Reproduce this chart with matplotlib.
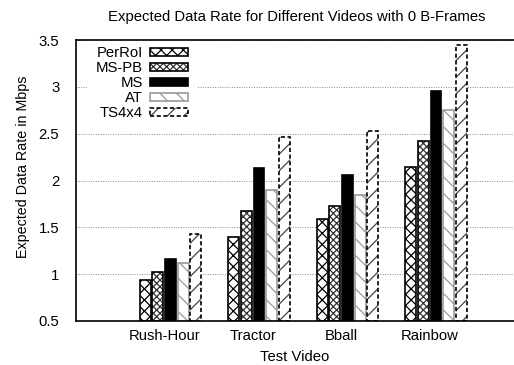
import numpy as np
import matplotlib
matplotlib.use("Agg")
import matplotlib.pyplot as plt
from matplotlib.legend_handler import HandlerTuple

videos = ["Rush-Hour", "Tractor", "Bball", "Rainbow"]
methods = ["PerRoI", "MS-PB", "MS", "AT", "TS4x4"]
perroi = [0.94, 1.40, 1.59, 2.14]
ms_pb = [1.02, 1.67, 1.73, 2.42]
ms = [1.16, 2.13, 2.06, 2.96]
at = [1.12, 1.90, 1.84, 2.75]
ts4x4 = [1.43, 2.46, 2.53, 3.45]

# (face, hatch colour, hatch, edge colour, edge style)
styles = [
    ("white", "black", "xxx", "black", "-"),
    ("white", "#333333", "xxxxx", "black", "-"),
    ("black", "black", None, "black", "-"),
    ("white", "#999999", "\\\\", "#999999", "-"),
    ("white", "#444444", "//", "black", (0, (2.5, 1.5))),
]

plt.rcParams["font.family"] = ["Liberation Sans", "DejaVu Sans"]
plt.rcParams["font.size"] = 10.7
plt.rcParams["hatch.linewidth"] = 0.9

fig = plt.figure(figsize=(5.14, 3.65), dpi=100)
ax = fig.add_axes([76 / 514, 1 - 321 / 365, 438 / 514, 281 / 365])

x = np.arange(len(videos))
step = 0.1424
width = 0.124
handles = []
for i, vals in enumerate([perroi, ms_pb, ms, at, ts4x4]):
    face, hcol, hatch, ecol, ls = styles[i]
    pos = x + (i - 2) * step
    fill = ax.bar(pos, np.array(vals) - 0.5, width, bottom=0.5, color=face,
                  edgecolor=hcol, hatch=hatch, linewidth=0, zorder=2)
    edge = ax.bar(pos, np.array(vals) - 0.5, width, bottom=0.5, fill=False,
                  edgecolor=ecol, linewidth=1.2, linestyle=ls, zorder=2.1)
    handles.append((fill.patches[0], edge.patches[0]))

ax.set_xlim((76 - 170.5) / 88.5, (514 - 170.5) / 88.5)
ax.set_ylim(0.5, 3.5)
ax.set_xticks(x - 0.07)
ax.set_xticklabels(videos)
ax.set_yticks(np.arange(0.5, 3.51, 0.5))
ax.set_yticklabels(["0.5", "1", "1.5", "2", "2.5", "3", "3.5"])
ax.tick_params(axis="x", length=0, pad=6)
ax.tick_params(axis="y", length=0, pad=12)
ax.spines["right"].set_visible(False)
for s in ["left", "top", "bottom"]:
    ax.spines[s].set_linewidth(1.2)
ax.yaxis.grid(True, linestyle=(0, (1, 1.5)), color="#888888", linewidth=0.7)
ax.set_axisbelow(True)

ax.set_xlabel("Test Video", labelpad=5)
ax.set_ylabel("Expected Data Rate in Mbps", fontsize=10.3)
ax.yaxis.set_label_coords(-0.105, 0.55)
fig.text(297 / 514, 1 - 17 / 365, "Expected Data Rate for Different Videos with 0 B-Frames",
         ha="center", va="center", fontsize=10.7)

leg = ax.legend(handles, methods, handler_map={tuple: HandlerTuple(ndivide=1)},
                loc="upper left", bbox_to_anchor=(0.008, 1.037), markerfirst=False,
                handlelength=2.6, handleheight=0.45, handletextpad=0.45,
                labelspacing=0.07, borderpad=0.6, frameon=True, fancybox=False,
                framealpha=1, edgecolor="none", facecolor="white")
leg.set_zorder(2.4)

fig.savefig("out.png", dpi=100)
